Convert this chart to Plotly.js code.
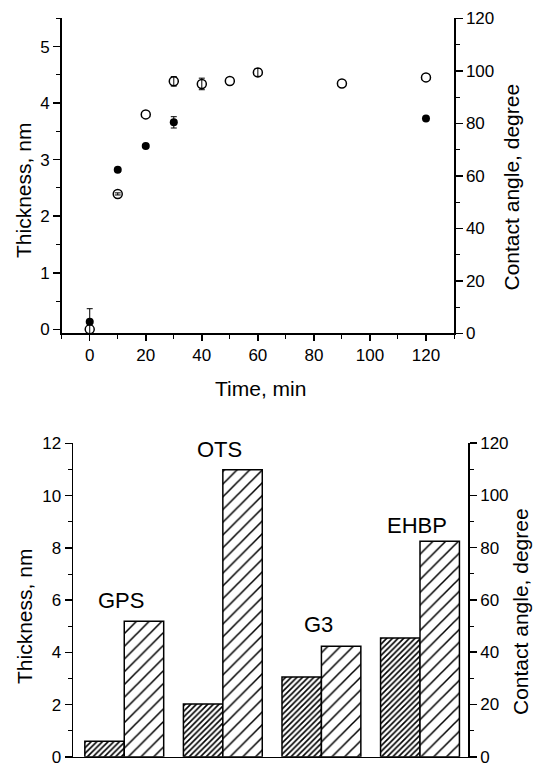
<!DOCTYPE html>
<html>
<head>
<meta charset="utf-8">
<script src="https://cdn.plot.ly/plotly-3.0.1.min.js"></script>
<style>html,body{margin:0;padding:0;background:#fff;}#chart{width:535px;height:767px;}</style>
</head>
<body>
<div id="chart"></div>
<script>
// ---- Top panel data ----
const angleTimes = [0, 10, 20, 30, 40, 50, 60, 90, 120];
const angleValues = [1.5, 53.1, 83.4, 96.0, 95.0, 96.1, 99.4, 95.2, 97.5];
const angleErrors = [0, 0.4, 0, 1.8, 2.2, 0, 1.5, 0, 0];
const thickTimes = [0, 10, 20, 30, 120];
const thickValues = [0.135, 2.82, 3.24, 3.66, 3.73];
const thickErrors = [0.23, 0, 0, 0.1, 0];

// ---- Bottom panel data ----
const materials = ['GPS', 'OTS', 'G3', 'EHBP'];
const barThickness = [0.60, 2.02, 3.06, 4.55];
const barAngle = [51.8, 109.8, 42.3, 82.4];

// ---- Axis labels ----
const xTitleTop = 'Time, min';
const yTitleLeft = 'Thickness, nm';
const yTitleRight = 'Contact angle, degree';

const FONT = 'Liberation Sans, Arial, Helvetica, sans-serif';
const W = 535, H = 767;
const px = v => v / W;
const py = v => 1 - v / H;

const axBase = {
  showline: true, linecolor: 'black', linewidth: 1.5,
  ticks: 'outside', ticklen: 7, tickwidth: 1.5, tickcolor: 'black',
  showgrid: false, zeroline: false,
  tickfont: {family: FONT, size: 17, color: 'black'},
  fixedrange: true
};
const minorT = d => ({dtick: d, ticks: 'outside', ticklen: 4, tickwidth: 1, tickcolor: 'black'});

// split points into with / without error bars (so zero errors draw no caps)
function subset(xs, ys, es, withErr) {
  const o = {x: [], y: [], e: []};
  xs.forEach((x, i) => {
    if ((es[i] > 0) === withErr) { o.x.push(x); o.y.push(ys[i]); o.e.push(es[i]); }
  });
  return o;
}

const filledMarker = {symbol: 'circle', size: 8, color: 'black'};
const openMarker = {symbol: 'circle-open', size: 9, color: 'black', line: {width: 1.5, color: 'black'}};
const errStyle = {type: 'data', color: 'black', thickness: 1, width: 3};

const traces = [];
[true, false].forEach(withErr => {
  const t = subset(thickTimes, thickValues, thickErrors, withErr);
  const tr = {type: 'scatter', mode: 'markers', x: t.x, y: t.y, xaxis: 'x', yaxis: 'y',
    marker: filledMarker, showlegend: false};
  if (withErr) tr.error_y = Object.assign({array: t.e}, errStyle);
  traces.push(tr);
  const a = subset(angleTimes, angleValues, angleErrors, withErr);
  const ta = {type: 'scatter', mode: 'markers', x: a.x, y: a.y, xaxis: 'x', yaxis: 'y2',
    marker: openMarker, showlegend: false};
  if (withErr) ta.error_y = Object.assign({array: a.e}, errStyle);
  traces.push(ta);
});

traces.push({
  type: 'bar', x: materials, y: barThickness, xaxis: 'x2', yaxis: 'y3',
  width: 0.4, offset: -0.4,
  marker: {color: 'white', line: {color: 'black', width: 1.5},
    pattern: {shape: '/', size: 4, solidity: 0.4, fgcolor: 'black', bgcolor: 'white'}},
  showlegend: false
});
traces.push({
  type: 'bar', x: materials, y: barAngle, xaxis: 'x2', yaxis: 'y4',
  width: 0.4, offset: 0,
  marker: {color: 'white', line: {color: 'black', width: 1.5},
    pattern: {shape: '/', size: 9, solidity: 0.17, fgcolor: 'black', bgcolor: 'white'}},
  showlegend: false
});

const labelShift = [21, 20, 22, 16];
const annotations = [
  {text: yTitleLeft, x: px(23), y: py(191), textangle: -90},
  {text: yTitleRight, x: px(511), y: py(187.5), textangle: -90},
  {text: xTitleTop, x: px(260), y: py(388), textangle: 0},
  {text: yTitleLeft, x: px(24), y: py(617), textangle: -90},
  {text: yTitleRight, x: px(520), y: py(612), textangle: -90}
].map(a => Object.assign({xref: 'paper', yref: 'paper', showarrow: false,
  xanchor: 'center', yanchor: 'middle', font: {family: FONT, size: 21, color: 'black'}}, a));

materials.forEach((m, i) => {
  annotations.push({
    text: m, x: m, y: barAngle[i], xref: 'x2', yref: 'y4', showarrow: false,
    xanchor: 'center', yanchor: 'middle', xshift: -3, yshift: labelShift[i],
    font: {family: FONT, size: 22, color: 'black'}
  });
});

const layout = {
  width: W, height: H,
  margin: {l: 0, r: 0, t: 0, b: 0},
  paper_bgcolor: 'white', plot_bgcolor: 'white',
  showlegend: false, barmode: 'overlay',
  xaxis: Object.assign({}, axBase, {
    domain: [px(61.7), px(454)], range: [-10, 130], anchor: 'y',
    tickvals: [0, 20, 40, 60, 80, 100, 120], ticklen: 6, minor: minorT(10)
  }),
  yaxis: Object.assign({}, axBase, {
    domain: [py(333.3), py(18.3)], range: [-0.07, 5.5], anchor: 'x',
    tickvals: [0, 1, 2, 3, 4, 5], minor: minorT(0.5)
  }),
  yaxis2: Object.assign({}, axBase, {
    domain: [py(333.3), py(18.3)], range: [0, 120.01], anchor: 'x', overlaying: 'y', side: 'right',
    tickvals: [0, 20, 40, 60, 80, 100, 120], minor: minorT(10)
  }),
  xaxis2: Object.assign({}, axBase, {
    domain: [px(73), px(468.3)], range: [-0.52, 3.49], anchor: 'y3', type: 'category',
    ticks: '', showticklabels: false
  }),
  yaxis3: Object.assign({}, axBase, {
    domain: [py(756.8), py(443)], range: [0, 12.02], anchor: 'x2',
    tickvals: [0, 2, 4, 6, 8, 10, 12], minor: minorT(1)
  }),
  yaxis4: Object.assign({}, axBase, {
    domain: [py(756.8), py(443)], range: [0, 120.01], anchor: 'x2', overlaying: 'y3', side: 'right',
    tickvals: [0, 20, 40, 60, 80, 100, 120], minor: minorT(10)
  }),
  annotations: annotations
};

Plotly.newPlot('chart', traces, layout, {displayModeBar: false, staticPlot: true});
</script>
</body>
</html>
